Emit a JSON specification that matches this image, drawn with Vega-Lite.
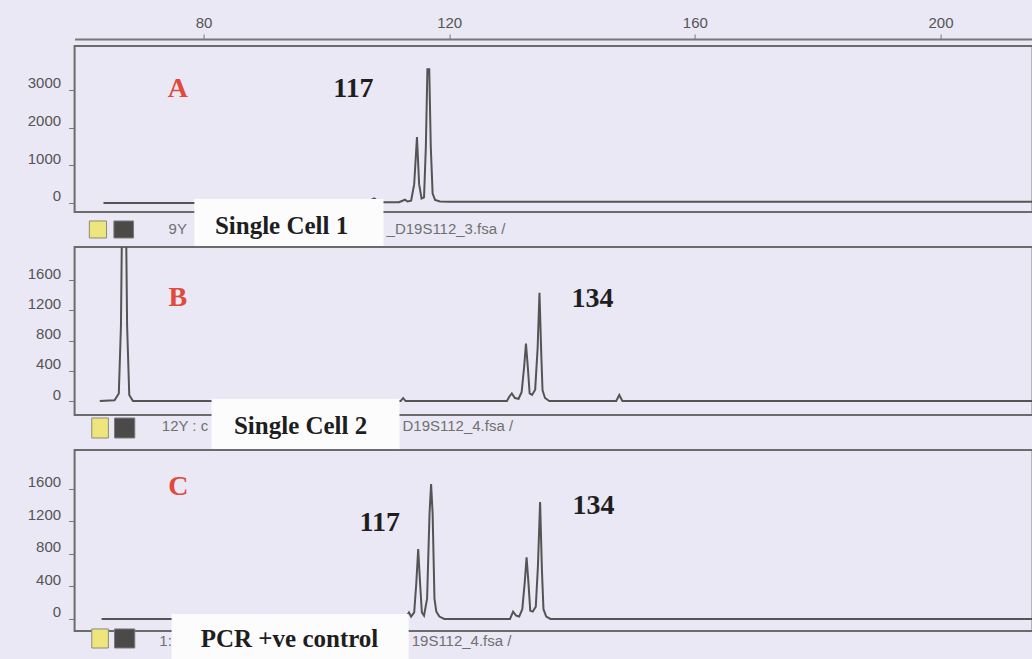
{
  "$schema": "https://vega.github.io/schema/vega-lite/v6.json",
  "background": "#e9e8f4",
  "padding": {"left": 25.6, "top": 14, "right": 0, "bottom": 0},
  "bounds": "flush",
  "spacing": 35,
  "config": {
    "font": "Liberation Sans",
    "view": {"stroke": "#6b6b6b", "strokeWidth": 2},
    "axis": {"grid": false, "labelFont": "Liberation Sans", "labelFontSize": 15, "labelColor": "#555555", "tickColor": "#777777", "domainColor": "#777777"}
  },
  "datasets": {
    "traceA": [
      {"bp": 63.7, "rfu": 0}, {"bp": 100, "rfu": 0}, {"bp": 106.9, "rfu": 10}, {"bp": 107.4, "rfu": 90},
      {"bp": 107.8, "rfu": 120}, {"bp": 108.2, "rfu": 70}, {"bp": 108.8, "rfu": 20}, {"bp": 111.8, "rfu": 20},
      {"bp": 112.4, "rfu": 60}, {"bp": 112.8, "rfu": 90}, {"bp": 113.2, "rfu": 40}, {"bp": 113.8, "rfu": 60},
      {"bp": 114.3, "rfu": 500}, {"bp": 114.75, "rfu": 1750}, {"bp": 115.1, "rfu": 500}, {"bp": 115.5, "rfu": 120},
      {"bp": 115.9, "rfu": 150}, {"bp": 116.2, "rfu": 1500}, {"bp": 116.45, "rfu": 3550}, {"bp": 116.75, "rfu": 3550},
      {"bp": 117.0, "rfu": 1500}, {"bp": 117.3, "rfu": 250}, {"bp": 117.7, "rfu": 80}, {"bp": 118.5, "rfu": 40},
      {"bp": 120, "rfu": 30}, {"bp": 215, "rfu": 30}
    ],
    "traceB": [
      {"bp": 63.1, "rfu": 0}, {"bp": 65.5, "rfu": 10}, {"bp": 66.2, "rfu": 100}, {"bp": 66.55, "rfu": 1000},
      {"bp": 66.75, "rfu": 2600}, {"bp": 67.35, "rfu": 2600}, {"bp": 67.55, "rfu": 1000}, {"bp": 67.9, "rfu": 80},
      {"bp": 68.5, "rfu": 0}, {"bp": 112.1, "rfu": 0}, {"bp": 112.5, "rfu": 40}, {"bp": 112.9, "rfu": 0},
      {"bp": 129.4, "rfu": 0}, {"bp": 129.8, "rfu": 60}, {"bp": 130.2, "rfu": 100}, {"bp": 130.7, "rfu": 40},
      {"bp": 131.3, "rfu": 30}, {"bp": 131.8, "rfu": 120}, {"bp": 132.2, "rfu": 450}, {"bp": 132.5, "rfu": 760},
      {"bp": 132.8, "rfu": 450}, {"bp": 133.1, "rfu": 100}, {"bp": 133.5, "rfu": 80}, {"bp": 134.0, "rfu": 150},
      {"bp": 134.4, "rfu": 700}, {"bp": 134.7, "rfu": 1430}, {"bp": 135.0, "rfu": 600}, {"bp": 135.2, "rfu": 140},
      {"bp": 135.6, "rfu": 40}, {"bp": 136.3, "rfu": 0}, {"bp": 147.2, "rfu": 0}, {"bp": 147.7, "rfu": 80},
      {"bp": 148.2, "rfu": 0}, {"bp": 215, "rfu": 0}
    ],
    "traceC": [
      {"bp": 63.4, "rfu": 0}, {"bp": 112.8, "rfu": 0}, {"bp": 113.2, "rfu": 50}, {"bp": 113.45, "rfu": 80},
      {"bp": 113.8, "rfu": 30}, {"bp": 114.3, "rfu": 80}, {"bp": 114.65, "rfu": 450}, {"bp": 114.95, "rfu": 860},
      {"bp": 115.25, "rfu": 450}, {"bp": 115.55, "rfu": 80}, {"bp": 115.9, "rfu": 40}, {"bp": 116.4, "rfu": 250},
      {"bp": 116.8, "rfu": 1300}, {"bp": 117.05, "rfu": 1660}, {"bp": 117.3, "rfu": 1300}, {"bp": 117.6, "rfu": 250},
      {"bp": 117.9, "rfu": 90}, {"bp": 118.4, "rfu": 30}, {"bp": 119.2, "rfu": 0}, {"bp": 129.9, "rfu": 0},
      {"bp": 130.4, "rfu": 90}, {"bp": 130.9, "rfu": 40}, {"bp": 131.4, "rfu": 30}, {"bp": 131.9, "rfu": 120},
      {"bp": 132.3, "rfu": 450}, {"bp": 132.6, "rfu": 760}, {"bp": 132.9, "rfu": 450}, {"bp": 133.2, "rfu": 100},
      {"bp": 133.6, "rfu": 90}, {"bp": 134.1, "rfu": 150}, {"bp": 134.45, "rfu": 650}, {"bp": 134.8, "rfu": 1440},
      {"bp": 135.1, "rfu": 600}, {"bp": 135.35, "rfu": 120}, {"bp": 135.8, "rfu": 30}, {"bp": 136.5, "rfu": 0},
      {"bp": 215, "rfu": 0}
    ],
    "notesA": [
      {"kind": "panel", "bp": 75.8, "rfu": 3024, "label": "A"},
      {"kind": "allele", "bp": 104.4, "rfu": 3024, "label": "117"},
      {"kind": "box", "bp": 78.5, "bp2": 109.3, "rfu": 106, "rfu2": -1141},
      {"kind": "dye1", "bp": 61.4, "bp2": 64.2, "rfu": -477, "rfu2": -928},
      {"kind": "dye2", "bp": 65.4, "bp2": 68.6, "rfu": -477, "rfu2": -928},
      {"kind": "sample", "bp": 92.7, "rfu": -610, "label": "Single Cell 1"},
      {"kind": "file", "bp": 74.3, "rfu": -690, "label": "9Y"},
      {"kind": "file", "bp": 109.8, "rfu": -690, "label": "_D19S112_3.fsa /"}
    ],
    "notesB": [
      {"kind": "panel", "bp": 75.8, "rfu": 1362, "label": "B"},
      {"kind": "allele", "bp": 143.35, "rfu": 1349, "label": "134"},
      {"kind": "box", "bp": 81.3, "bp2": 111.9, "rfu": 26, "rfu2": -635},
      {"kind": "dye1", "bp": 61.8, "bp2": 64.5, "rfu": -225, "rfu2": -489},
      {"kind": "dye2", "bp": 65.5, "bp2": 68.8, "rfu": -225, "rfu2": -489},
      {"kind": "sample", "bp": 95.8, "rfu": -331, "label": "Single Cell 2"},
      {"kind": "file", "bp": 73.2, "rfu": -331, "label": "12Y : c"},
      {"kind": "file", "bp": 112.4, "rfu": -331, "label": "D19S112_4.fsa /"}
    ],
    "notesC": [
      {"kind": "panel", "bp": 75.9, "rfu": 1624, "label": "C"},
      {"kind": "allele", "bp": 108.7, "rfu": 1181, "label": "117"},
      {"kind": "allele", "bp": 143.5, "rfu": 1390, "label": "134"},
      {"kind": "box", "bp": 74.8, "bp2": 113.4, "rfu": 61, "rfu2": -504},
      {"kind": "dye1", "bp": 61.8, "bp2": 64.5, "rfu": -123, "rfu2": -357},
      {"kind": "dye2", "bp": 65.5, "bp2": 68.8, "rfu": -123, "rfu2": -357},
      {"kind": "sample", "bp": 94.0, "rfu": -246, "label": "PCR +ve control"},
      {"kind": "file", "bp": 72.8, "rfu": -271, "label": "1:"},
      {"kind": "file", "bp": 113.9, "rfu": -271, "label": "19S112_4.fsa /"}
    ]
  },
  "vconcat": [
    {
      "width": 958, "height": 166,
      "encoding": {
        "x": {"field": "bp", "type": "quantitative", "scale": {"domain": [59, 215], "nice": false, "zero": false},
              "axis": {"orient": "top", "values": [80, 120, 160, 200], "format": "d", "offset": 7, "tickSize": 5, "labelPadding": 4, "domainWidth": 2, "labelFlush": false, "title": null}},
        "y": {"field": "rfu", "type": "quantitative", "scale": {"domain": [-239, 4164], "nice": false, "zero": false},
              "axis": {"values": [0, 1000, 2000, 3000], "format": "d", "offset": 1, "tickSize": 5, "labelPadding": 8, "domain": false, "labelBaseline": "alphabetic", "labelOffset": -2, "title": null}}
      },
      "layer": [
        {"data": {"name": "traceA"}, "mark": {"type": "line", "clip": true, "color": "#545454", "strokeWidth": 2}},
        {"data": {"name": "notesA"}, "transform": [{"filter": "datum.kind === 'box'"}], "mark": {"type": "rect", "fill": "#fcfcfd"}, "encoding": {"x2": {"field": "bp2"}, "y2": {"field": "rfu2"}}},
        {"data": {"name": "notesA"}, "transform": [{"filter": "datum.kind === 'dye1'"}], "mark": {"type": "rect", "fill": "#eee67c", "stroke": "#8c8a78", "strokeWidth": 1}, "encoding": {"x2": {"field": "bp2"}, "y2": {"field": "rfu2"}}},
        {"data": {"name": "notesA"}, "transform": [{"filter": "datum.kind === 'dye2'"}], "mark": {"type": "rect", "fill": "#4c4949", "stroke": "#7a7a7a", "strokeWidth": 1}, "encoding": {"x2": {"field": "bp2"}, "y2": {"field": "rfu2"}}},
        {"data": {"name": "notesA"}, "transform": [{"filter": "datum.kind === 'panel'"}], "mark": {"type": "text", "font": "Liberation Serif", "fontWeight": "bold", "fontSize": 28, "color": "#e0493b", "align": "center", "baseline": "middle"}, "encoding": {"text": {"field": "label"}}},
        {"data": {"name": "notesA"}, "transform": [{"filter": "datum.kind === 'allele'"}], "mark": {"type": "text", "font": "Liberation Serif", "fontWeight": "bold", "fontSize": 28, "color": "#1e1e1e", "align": "center", "baseline": "middle"}, "encoding": {"text": {"field": "label"}}},
        {"data": {"name": "notesA"}, "transform": [{"filter": "datum.kind === 'sample'"}], "mark": {"type": "text", "font": "Liberation Serif", "fontWeight": "bold", "fontSize": 25, "color": "#1e1e1e", "align": "center", "baseline": "middle"}, "encoding": {"text": {"field": "label"}}},
        {"data": {"name": "notesA"}, "transform": [{"filter": "datum.kind === 'file'"}], "mark": {"type": "text", "font": "Liberation Sans", "fontSize": 15, "color": "#707070", "align": "left", "baseline": "middle"}, "encoding": {"text": {"field": "label"}}}
      ]
    },
    {
      "width": 958, "height": 168,
      "encoding": {
        "x": {"field": "bp", "type": "quantitative", "scale": {"domain": [59, 215], "nice": false, "zero": false}, "axis": null},
        "y": {"field": "rfu", "type": "quantitative", "scale": {"domain": [-185, 2037], "nice": false, "zero": false},
              "axis": {"values": [0, 400, 800, 1200, 1600], "format": "d", "offset": 1, "tickSize": 5, "labelPadding": 8, "domain": false, "labelBaseline": "alphabetic", "labelOffset": -2, "title": null}}
      },
      "layer": [
        {"data": {"name": "traceB"}, "mark": {"type": "line", "clip": true, "color": "#545454", "strokeWidth": 2}},
        {"data": {"name": "notesB"}, "transform": [{"filter": "datum.kind === 'box'"}], "mark": {"type": "rect", "fill": "#fcfcfd"}, "encoding": {"x2": {"field": "bp2"}, "y2": {"field": "rfu2"}}},
        {"data": {"name": "notesB"}, "transform": [{"filter": "datum.kind === 'dye1'"}], "mark": {"type": "rect", "fill": "#eee67c", "stroke": "#8c8a78", "strokeWidth": 1}, "encoding": {"x2": {"field": "bp2"}, "y2": {"field": "rfu2"}}},
        {"data": {"name": "notesB"}, "transform": [{"filter": "datum.kind === 'dye2'"}], "mark": {"type": "rect", "fill": "#4c4949", "stroke": "#7a7a7a", "strokeWidth": 1}, "encoding": {"x2": {"field": "bp2"}, "y2": {"field": "rfu2"}}},
        {"data": {"name": "notesB"}, "transform": [{"filter": "datum.kind === 'panel'"}], "mark": {"type": "text", "font": "Liberation Serif", "fontWeight": "bold", "fontSize": 28, "color": "#e0493b", "align": "center", "baseline": "middle"}, "encoding": {"text": {"field": "label"}}},
        {"data": {"name": "notesB"}, "transform": [{"filter": "datum.kind === 'allele'"}], "mark": {"type": "text", "font": "Liberation Serif", "fontWeight": "bold", "fontSize": 28, "color": "#1e1e1e", "align": "center", "baseline": "middle"}, "encoding": {"text": {"field": "label"}}},
        {"data": {"name": "notesB"}, "transform": [{"filter": "datum.kind === 'sample'"}], "mark": {"type": "text", "font": "Liberation Serif", "fontWeight": "bold", "fontSize": 25, "color": "#1e1e1e", "align": "center", "baseline": "middle"}, "encoding": {"text": {"field": "label"}}},
        {"data": {"name": "notesB"}, "transform": [{"filter": "datum.kind === 'file'"}], "mark": {"type": "text", "font": "Liberation Sans", "fontSize": 15, "color": "#707070", "align": "left", "baseline": "middle"}, "encoding": {"text": {"field": "label"}}}
      ]
    },
    {
      "width": 958, "height": 181,
      "encoding": {
        "x": {"field": "bp", "type": "quantitative", "scale": {"domain": [59, 215], "nice": false, "zero": false}, "axis": null},
        "y": {"field": "rfu", "type": "quantitative", "scale": {"domain": [-148, 2079], "nice": false, "zero": false},
              "axis": {"values": [0, 400, 800, 1200, 1600], "format": "d", "offset": 1, "tickSize": 5, "labelPadding": 8, "domain": false, "labelBaseline": "alphabetic", "labelOffset": -2, "title": null}}
      },
      "layer": [
        {"data": {"name": "traceC"}, "mark": {"type": "line", "clip": true, "color": "#545454", "strokeWidth": 2}},
        {"data": {"name": "notesC"}, "transform": [{"filter": "datum.kind === 'box'"}], "mark": {"type": "rect", "fill": "#fcfcfd"}, "encoding": {"x2": {"field": "bp2"}, "y2": {"field": "rfu2"}}},
        {"data": {"name": "notesC"}, "transform": [{"filter": "datum.kind === 'dye1'"}], "mark": {"type": "rect", "fill": "#eee67c", "stroke": "#8c8a78", "strokeWidth": 1}, "encoding": {"x2": {"field": "bp2"}, "y2": {"field": "rfu2"}}},
        {"data": {"name": "notesC"}, "transform": [{"filter": "datum.kind === 'dye2'"}], "mark": {"type": "rect", "fill": "#4c4949", "stroke": "#7a7a7a", "strokeWidth": 1}, "encoding": {"x2": {"field": "bp2"}, "y2": {"field": "rfu2"}}},
        {"data": {"name": "notesC"}, "transform": [{"filter": "datum.kind === 'panel'"}], "mark": {"type": "text", "font": "Liberation Serif", "fontWeight": "bold", "fontSize": 28, "color": "#e0493b", "align": "center", "baseline": "middle"}, "encoding": {"text": {"field": "label"}}},
        {"data": {"name": "notesC"}, "transform": [{"filter": "datum.kind === 'allele'"}], "mark": {"type": "text", "font": "Liberation Serif", "fontWeight": "bold", "fontSize": 28, "color": "#1e1e1e", "align": "center", "baseline": "middle"}, "encoding": {"text": {"field": "label"}}},
        {"data": {"name": "notesC"}, "transform": [{"filter": "datum.kind === 'sample'"}], "mark": {"type": "text", "font": "Liberation Serif", "fontWeight": "bold", "fontSize": 25, "color": "#1e1e1e", "align": "center", "baseline": "middle"}, "encoding": {"text": {"field": "label"}}},
        {"data": {"name": "notesC"}, "transform": [{"filter": "datum.kind === 'file'"}], "mark": {"type": "text", "font": "Liberation Sans", "fontSize": 15, "color": "#707070", "align": "left", "baseline": "middle"}, "encoding": {"text": {"field": "label"}}}
      ]
    }
  ]
}
